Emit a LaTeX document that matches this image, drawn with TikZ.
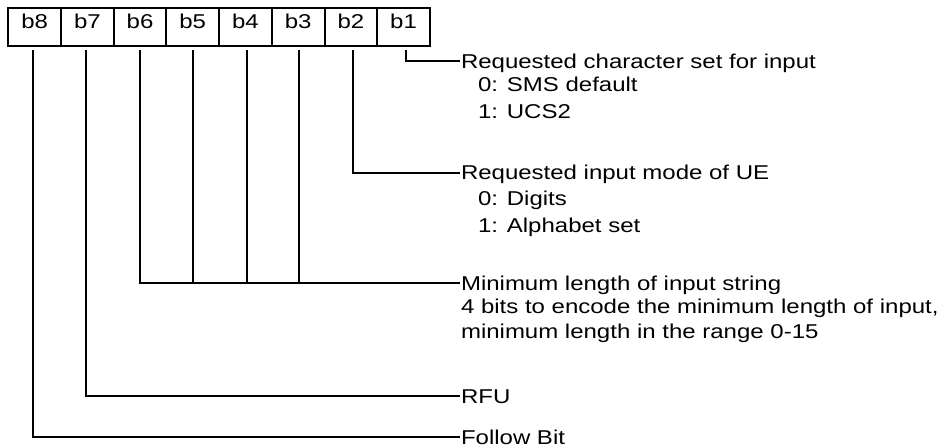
\documentclass[tikz,border=0pt]{standalone}
\usepackage{fontspec}
\setmainfont{Liberation Sans}
\newfontfamily\widesans{Liberation Sans}[FakeStretch=1.2]
\begin{document}
\begin{tikzpicture}[x=0.5pt,y=-0.5pt,
  line width=1pt,
  txt/.style={font=\widesans\fontsize{10pt}{12pt}\selectfont},
  bitbox/.style={txt, draw, line width=1pt, minimum width=26.35pt, minimum height=18.75pt,
    inner sep=0pt, text height=7.2pt, text depth=5.9pt},
  lbl/.style={txt, inner sep=0pt, anchor=west, text height=7.2pt, text depth=0pt},
  sub/.style={txt, inner sep=0pt, anchor=base west},
  wire/.style={line width=1pt}]
\useasboundingbox (0,0) rectangle (941,448);
% bit boxes
\node[bitbox] (b8) at (34.65,27) {b8};
\node[bitbox] (b7) at (87.35,27) {b7};
\node[bitbox] (b6) at (140.05,27) {b6};
\node[bitbox] (b5) at (192.75,27) {b5};
\node[bitbox] (b4) at (245.45,27) {b4};
\node[bitbox] (b3) at (298.15,27) {b3};
\node[bitbox] (b2) at (350.85,27) {b2};
\node[bitbox] (b1) at (403.55,27) {b1};
% labels
\node[lbl] (t1) at (460,61.5) {Requested character set for input};
\node[sub] (t1a) at (477,92) {0: SMS default};
\node[sub] (t1b) at (477,119) {1: UCS2};
\node[lbl] (t2) at (460,172.7) {Requested input mode of UE};
\node[sub] (t2a) at (477,206) {0: Digits};
\node[sub] (t2b) at (477,233) {1: Alphabet set};
\node[lbl] (t3) at (460,283) {Minimum length of input string};
\node[sub] (t3a) at (460,314) {4 bits to encode the minimum length of input,};
\node[sub] (t3b) at (460,338) {minimum length in the range 0-15};
\node[lbl] (t4) at (460,396) {RFU};
\node[lbl] (t5) at (460,437) {Follow Bit};
% connectors
\draw[wire] ([xshift=1.2pt,yshift=-1.5pt]b1.south) |- (t1.west);
\draw[wire] ([xshift=1pt,yshift=-1.5pt]b2.south) |- (t2.west);
\draw[wire] ([xshift=0.4pt,yshift=-1.5pt]b3.south) -- ([xshift=0.4pt]b3.south |- t3.west);
\draw[wire] ([xshift=0.75pt,yshift=-1.5pt]b4.south) -- ([xshift=0.75pt]b4.south |- t3.west);
\draw[wire] ([yshift=-1.5pt]b5.south) -- (b5.south |- t3.west);
\draw[wire] ([yshift=-1.5pt]b6.south) |- (t3.west);
\draw[wire] ([xshift=-0.7pt,yshift=-1.5pt]b7.south) |- (t4.west);
\draw[wire] ([xshift=-0.8pt,yshift=-1.5pt]b8.south) |- (t5.west);
\end{tikzpicture}
\end{document}
